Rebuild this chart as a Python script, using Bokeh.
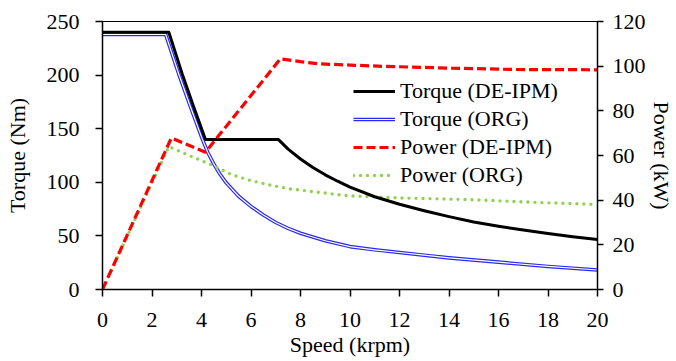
from bokeh.plotting import figure
from bokeh.models import Range1d, LinearAxis, FixedTicker, Legend, LegendItem
from bokeh.embed import file_html
from bokeh.resources import INLINE

# Torque (DE-IPM) vs speed
speed_t_de = [0, 2.68, 3.22, 3.69, 4.16, 7.1, 7.5, 8, 8.5, 9, 9.5, 10, 11, 12, 13, 14, 15, 16, 17, 18, 19, 20]
torque_de = [240, 240, 201, 170, 140, 140, 131, 121.7, 113.8, 107, 101, 95.5, 86.5, 79.5, 73.5, 68, 63,
             59, 55.5, 52.3, 49.3, 46.6]

# Torque (ORG) vs speed
speed_t_org = [0, 2.55, 3.08, 3.56, 4.03, 4.25, 4.5, 4.75, 5, 5.5, 6, 6.5, 7, 7.5, 8, 9, 10, 11, 12, 13,
               14, 16, 18, 20]
torque_org = [238, 238, 201, 170, 140.5, 128, 117, 107.5, 99.5, 87, 77.5, 69.5, 62.5, 57, 52.5, 45.5, 40,
              37, 34.5, 32, 29.5, 25.5, 21.5, 18.2]

# Power (DE-IPM) vs speed
speed_p_de = [0, 2.78, 4.16, 7.19, 8, 8.8, 10, 11.4, 14.1, 16.75, 19.6, 20]
power_de = [0, 67.8, 61.5, 103.3, 102, 101, 100.5, 99.9, 99.1, 98.5, 98.4, 98.3]

# Power (ORG) vs speed
speed_p_org = [0, 2.68, 3.5, 4.48, 5.2, 5.98, 6.8, 7.6, 9.9, 12, 15, 17.5, 20]
power_org = [0, 64, 60, 55.5, 51.5, 48.8, 46.7, 45, 42, 41, 40.2, 39, 38.1]

x_ticks = [0, 2, 4, 6, 8, 10, 12, 14, 16, 18, 20]
torque_ticks = [0, 50, 100, 150, 200, 250]
power_ticks = [0, 20, 40, 60, 80, 100, 120]

FONT = "Liberation Serif"
FS = "22px"

p = figure(width=676, height=361, output_backend="svg", toolbar_location=None,
           x_range=Range1d(0, 20), y_range=Range1d(0, 250),
           min_border_left=102, min_border_right=79, min_border_top=21, min_border_bottom=72)
p.extra_y_ranges = {"power": Range1d(0, 120)}
p.xgrid.visible = False
p.ygrid.visible = False
p.outline_line_color = "black"
p.outline_line_width = 1
p.background_fill_color = "white"
p.border_fill_color = "white"

right_axis = LinearAxis(y_range_name="power")
p.add_layout(right_axis, "right")

p.xaxis.ticker = FixedTicker(ticks=x_ticks)
p.yaxis[0].ticker = FixedTicker(ticks=torque_ticks)
right_axis.ticker = FixedTicker(ticks=power_ticks)

p.xaxis.axis_label = "Speed (krpm)"
p.yaxis[0].axis_label = "Torque (Nm)"
right_axis.axis_label = "Power (kW)"

for ax in [p.xaxis[0], p.yaxis[0], right_axis]:
    ax.axis_line_color = "black"
    ax.axis_line_width = 1.5
    ax.major_tick_line_color = "black"
    ax.major_tick_line_width = 1.5
    ax.major_tick_in = 0
    ax.major_tick_out = 7
    ax.minor_tick_line_color = None
    ax.major_label_text_font = FONT
    ax.major_label_text_font_size = FS
    ax.major_label_text_color = "black"
    ax.axis_label_text_font = FONT
    ax.axis_label_text_font_size = FS
    ax.axis_label_text_font_style = "normal"
    ax.axis_label_text_color = "black"

p.xaxis.major_label_standoff = 16
p.xaxis.axis_label_standoff = 2
p.xaxis.axis_label_text_line_height = 0.85
p.yaxis[0].major_label_standoff = 16
p.yaxis[0].axis_label_standoff = 14
right_axis.major_tick_out = 6
right_axis.major_label_standoff = 9
right_axis.axis_label_standoff = 0
right_axis.axis_label_text_line_height = 0.85

# curves
r_org_outer = p.line(speed_t_org, torque_org, line_color="#2a2aee", line_width=3.6, line_join="round")
r_org_inner = p.line(speed_t_org, torque_org, line_color="white", line_width=1.2, line_join="round")
r_pow_org = p.line(speed_p_org, power_org, y_range_name="power", line_color="#92D050",
                   line_width=3.4, line_dash="0 7", line_cap="round")
r_tq_de = p.line(speed_t_de, torque_de, line_color="black", line_width=3, line_join="round")
r_pow_de = p.line(speed_p_de, power_de, y_range_name="power", line_color="#FF0000",
                  line_width=3.2, line_dash="9 4")

legend = Legend(items=[
    LegendItem(label="Torque (DE-IPM)", renderers=[r_tq_de]),
    LegendItem(label="Torque (ORG)", renderers=[r_org_outer, r_org_inner]),
    LegendItem(label="Power (DE-IPM)", renderers=[r_pow_de]),
    LegendItem(label="Power (ORG)", renderers=[r_pow_org]),
], location=(251, 101))
legend.padding = 0
legend.margin = 0
legend.border_line_color = None
legend.background_fill_alpha = 0
legend.glyph_width = 42
legend.glyph_height = 22
legend.label_height = 22
legend.spacing = 2
legend.label_standoff = 5
legend.label_text_font = FONT
legend.label_text_font_size = FS
legend.label_text_color = "black"
p.add_layout(legend, "center")

open("out.html", "w").write(file_html(p, INLINE))
